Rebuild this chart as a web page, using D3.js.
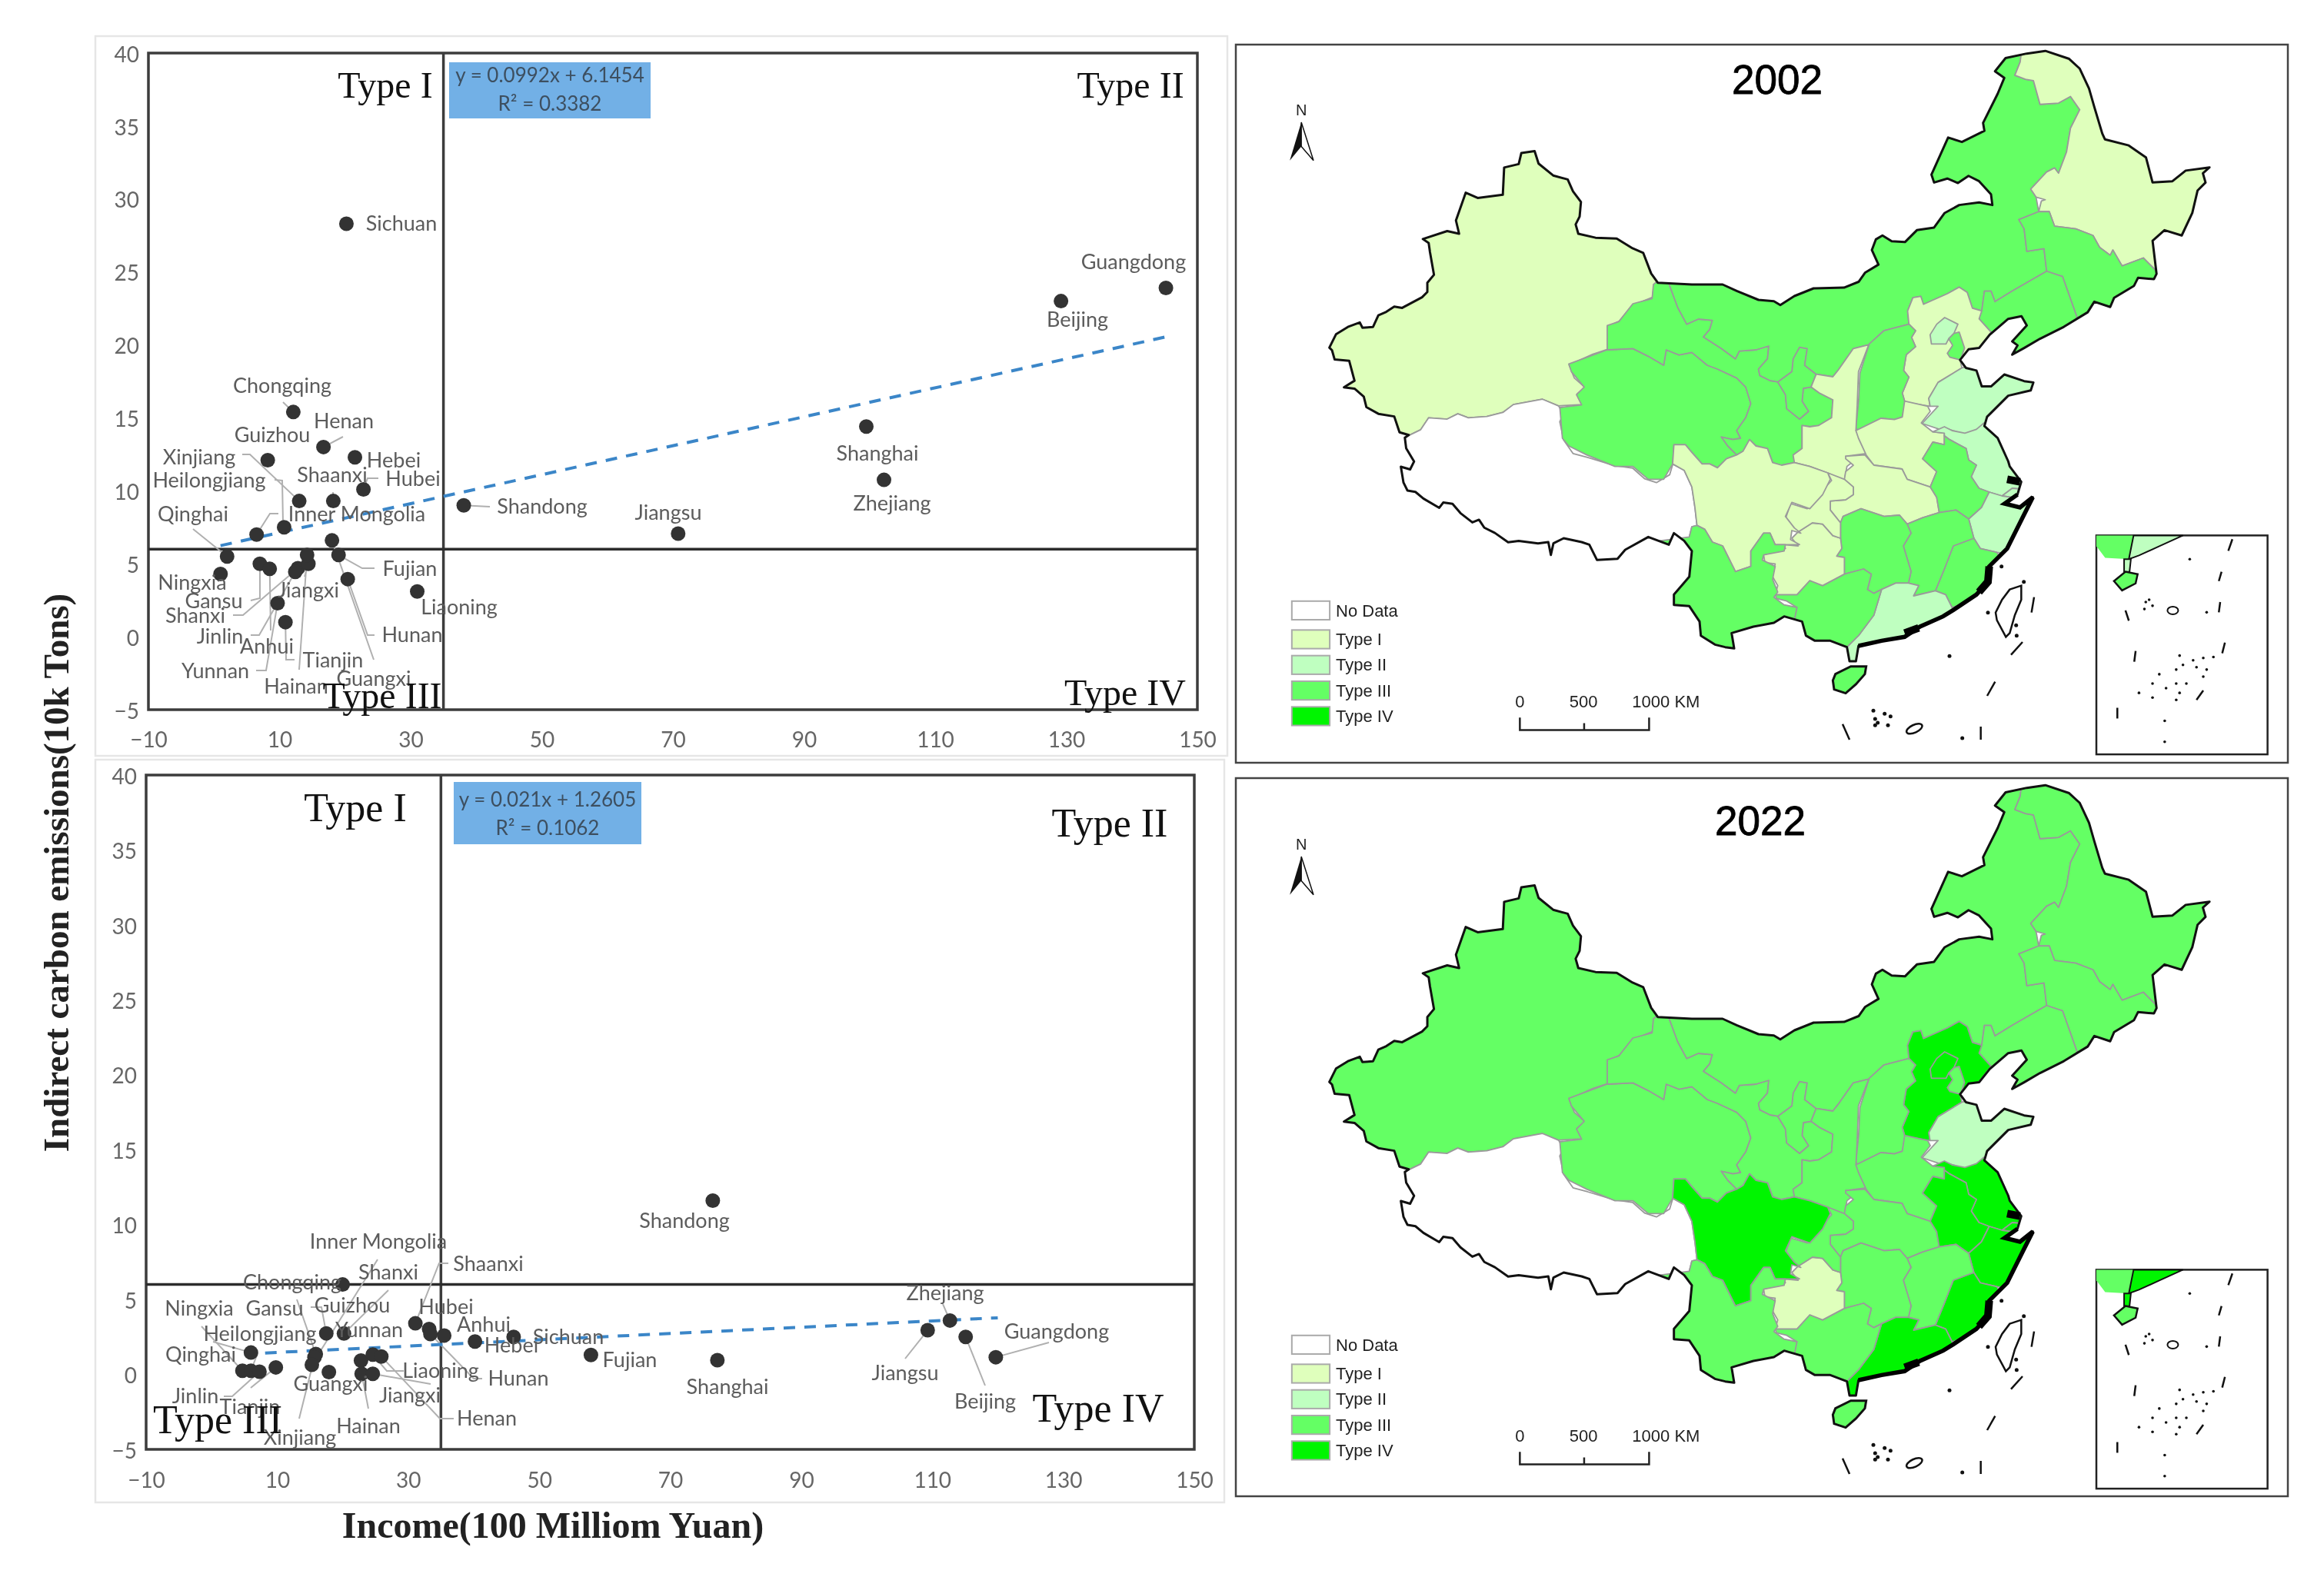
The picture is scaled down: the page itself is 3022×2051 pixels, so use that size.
<!DOCTYPE html>
<html><head><meta charset="utf-8">
<script src="https://cdn.jsdelivr.net/npm/d3@7/dist/d3.min.js"></script>
<style>html,body{margin:0;padding:0;background:#fff}svg{display:block;filter:blur(0.7px)}</style>
</head><body><svg id="c" width="3022" height="2051"></svg>
<script>
// ---------- scatter data ----------
const names2002=["Chongqing","Henan","Guizhou","Hebei","Hubei","Xinjiang","Shaanxi","Heilongjiang","Inner Mongolia","Qinghai","Ningxia","Gansu","Anhui","Shanxi","Jinlin","Jiangxi","Hainan","Fujian","Guangxi","Hunan","Liaoning","Yunnan","Tianjin","Shandong","Sichuan","Beijing","Guangdong","Shanghai","Zhejiang","Jiangsu"];
const income2002=[12.1,16.7,8.2,21.5,22.8,13.0,18.2,10.7,6.5,2.0,1.0,7.0,8.5,12.8,12.4,14.4,14.2,19.0,18.0,20.4,31.0,9.7,10.9,38.1,20.2,129.2,145.2,99.5,102.2,70.8];
const carbon2002=[15.4,13.0,12.1,12.3,10.1,9.3,9.3,7.5,7.0,5.5,4.3,5.0,4.65,4.7,4.45,5.0,5.6,5.6,6.6,3.95,3.1,2.3,1.0,9.0,28.3,23.0,23.9,14.4,10.75,7.07];
const names2022=["Chongqing","Heilongjiang","Ningxia","Qinghai","Jinlin","Tianjin","Gansu","Xinjiang","Inner Mongolia","Guangxi","Guizhou","Shanxi","Shaanxi","Hubei","Hunan","Anhui","Hebei","Sichuan","Fujian","Yunnan","Liaoning","Henan","Hainan","Jiangxi","Shandong","Shanghai","Zhejiang","Jiangsu","Beijing","Guangdong"];
const income2022=[20.0,6.0,4.7,6.0,7.3,9.8,15.9,15.7,15.3,17.9,17.5,20.2,31.1,33.2,33.4,35.5,40.2,46.1,57.9,22.8,24.6,25.9,22.9,24.6,76.5,77.2,112.7,109.3,115.1,119.7];
const carbon2022=[6.0,1.46,0.25,0.25,0.18,0.47,1.36,1.15,0.64,0.16,2.74,2.73,3.41,3.03,2.7,2.6,2.2,2.5,1.3,0.93,1.32,1.2,0.04,0.04,11.6,0.95,3.6,2.95,2.5,1.15];
const xTicks=[-10,10,30,50,70,90,110,130,150];
const yTicks=[-5,0,5,10,15,20,25,30,35,40];
const typeNames=["Type I","Type II","Type III","Type IV"];
const fit2002={a:0.0992,b:6.1454,from:1,to:146,eq:"y = 0.0992x + 6.1454",r2:"R² = 0.3382"};
const fit2022={a:0.021,b:1.2605,from:5,to:120,eq:"y = 0.021x + 1.2605",r2:"R² = 0.1062"};
const splitX=35, splitY=6;

// ---------- label layout (page pixels) ----------
const labelSpots2002={Chongqing:[367,502],Henan:[447,548],Guizhou:[354,566],Xinjiang:[259,595],Hebei:[512,599],Heilongjiang:[272,625],Shaanxi:[432,618],Hubei:[537,623],Qinghai:[251,669],"Inner Mongolia":[464,669],Ningxia:[250,758],Jiangxi:[401,768],Fujian:[533,740],Gansu:[278,782],Shanxi:[254,801],Liaoning:[597,790],Jinlin:[286,828],Hunan:[536,826],Anhui:[347,841],Tianjin:[433,859],Yunnan:[280,873],Hainan:[385,893],Guangxi:[486,883],Shandong:[705,659],Jiangsu:[869,667],Shanghai:[1141,590],Zhejiang:[1160,655],Beijing:[1401,416],Guangdong:[1474,341],Sichuan:[522,291]};
const leaders2002={Chongqing:[[368,523]],Henan:[[446,568]],Xinjiang:[[315,591],[325,591]],Heilongjiang:[[357,624],[367,625],[368,680]],Shaanxi:[[433,640]],Hubei:[[492,622],[478,622]],"Inner Mongolia":[[362,668],[351,668]],Qinghai:[[251,688]],Fujian:[[487,739],[471,739]],Hunan:[[487,826],[478,826]],Guangxi:[[486,858]],Gansu:[[326,781],[338,778],[338,742]],Shanxi:[[303,800],[316,800]],Jinlin:[[326,826],[337,826]],Yunnan:[[333,872],[346,872]],Tianjin:[[383,858],[372,858]],Hainan:[[389,871]],Shandong:[[637,659]],Anhui:[[352,820]],Jiangxi:[[396,750]]};
const labelSpots2022={"Inner Mongolia":[492,1615],Shaanxi:[635,1644],Shanxi:[505,1655],Chongqing:[380,1668],Ningxia:[259,1702],Gansu:[357,1702],Guizhou:[458,1698],Hubei:[580,1700],Anhui:[629,1723],Yunnan:[480,1730],Heilongjiang:[338,1735],Sichuan:[739,1739],Hebei:[665,1750],Qinghai:[261,1762],Fujian:[819,1769],Liaoning:[573,1783],Hunan:[674,1793],Guangxi:[430,1800],Jiangxi:[533,1815],Jinlin:[254,1816],Tianjin:[325,1830],Henan:[633,1845],Hainan:[479,1855],Xinjiang:[390,1870],Shandong:[890,1588],Zhejiang:[1229,1682],Jiangsu:[1177,1786],Beijing:[1281,1823],Guangdong:[1374,1732],Shanghai:[946,1804]};
const leaders2022={"Inner Mongolia":[[491,1638]],Shanxi:[[505,1678]],Shaanxi:[[583,1643],[571,1643]],Ningxia:[[262,1725]],Gansu:[[386,1690]],Guizhou:[[404,1700],[418,1700]],Heilongjiang:[[277,1745]],Qinghai:[[335,1760]],Jinlin:[[291,1816],[302,1816]],Tianjin:[[326,1805]],Xinjiang:[[389,1845]],Henan:[[590,1845],[572,1845]],Hunan:[[627,1793],[616,1793]],Liaoning:[[525,1783],[503,1783]],Jiangxi:[[560,1800]],Hainan:[[479,1832]],Jiangsu:[[1177,1767]],Beijing:[[1281,1802]],Guangdong:[[1364,1746]],Zhejiang:[[1226,1696]]};

// ---------- map geometry: traced in four views of the 2002 map ----------
const view=(x0,y0,k)=>pts=>pts.map(p=>[x0+p[0]*k,y0+p[1]*k]);
const W=view(1720,180,540/1568), NE=view(2360,60,540/1568), S=view(2180,480,1/3), M=view(2000,340,1/3);
const chinaOutline=[
...W([[25,790],[50,740],[95,712],[140,695],[150,715],[190,712],[210,668],[240,655],[270,635],[300,640],[375,600],[395,580],[395,545],[420,515],[405,430],[400,395],[378,380],[470,350],[515,360],[503,310],[540,205],[585,225],[680,213],[685,110],[740,97],[750,55],[800,48],[815,95],[870,140],[925,155],[945,200],[975,240],[970,295],[955,325],[965,360],[1030,375],[1110,378],[1170,415],[1210,432],[1240,510],[1265,545]]),
...M([[600,90],[720,90],[775,115],[860,150],[920,155],[945,170],[1000,135],[1075,105]]),
...NE([[0,915],[110,912],[165,890],[190,855],[240,825],[215,770],[230,730],[255,715],[290,737],[340,740],[385,695],[450,685],[490,630],[545,600],[620,590],[670,600],[665,560],[620,510],[580,490],[540,517],[500,500],[450,515],[440,485],[503,345],[555,362],[640,320],[635,290],[690,180],[715,120],[680,95],[720,45],[800,28],[870,18],[960,48],[1000,85],[1035,160],[1055,230],[1085,330],[1095,352],[1185,375],[1250,420],[1275,515],[1350,510],[1400,470],[1490,458],[1465,480],[1475,515],[1445,545],[1425,630],[1385,715],[1320,695],[1275,735],[1290,860],[1280,880],[1220,875],[1205,905],[1130,950],[1115,985],[1055,965],[1030,1005],[940,1060],[850,1105],[790,1140],[745,1165],[765,1130],[745,1115],[800,1055],[780,1020],[730,1030],[660,1090],[620,1140],[580,1145],[548,1185],[570,1215],[610,1225],[630,1285],[665,1285],[715,1240],[790,1265],[825,1270],[815,1300],[730,1320],[650,1400],[640,1435],[690,1480],[730,1568]]),
...S([[1300,380],[1345,440],[1330,490],[1280,525],[1340,540],[1390,500],[1350,580],[1320,640],[1290,700],[1220,770],[1215,830],[1170,880],[1080,940],[1040,965],[950,1005],[890,1045],[800,1060],[710,1080],[700,1140],[675,1140],[665,1085],[600,1060],[540,1060],[505,1040],[490,985],[420,965],[380,990],[300,1005],[215,1030],[225,1090],[190,1085],[150,1075],[95,1040],[90,985],[50,925]]),
...M([[530,1340],[530,1300],[590,1230],[600,1130],[570,1090],[530,1060],[510,1105],[430,1075],[340,1125],[310,1160],[230,1165],[200,1105],[170,1095],[100,1080],[60,1100],[50,1145],[40,1095],[0,1100]]),
...W([[740,1520],[700,1525],[650,1490],[610,1470],[590,1440],[565,1450],[520,1415],[490,1380],[455,1375],[440,1395],[380,1360],[350,1335],[320,1330],[305,1300],[295,1240],[330,1250],[345,1220],[315,1170],[310,1130],[325,1120],[290,1110],[270,1050],[210,1040],[165,1015],[155,975],[120,945],[80,940],[120,915],[100,840],[45,835],[35,800]])
];
const coastHeavy=S([[1330,490],[1280,525],[1340,540],[1390,500],[1350,580],[1320,640],[1290,700],[1220,770],[1215,830],[1170,880],[1080,940],[1040,965],[950,1005],[890,1045],[800,1060],[710,1080]]);
const coastBlobs=[S([[1290,430],[1340,440]]),S([[1220,770],[1215,830],[1180,870]]),S([[890,1030],[945,1010]])];
const provinceNames=["Xinjiang","Xizang","Qinghai","Gansu","Ningxia","InnerMongolia","Heilongjiang","Jilin","Liaoning","Hebei","Beijing","Tianjin","Shanxi","Shaanxi","Henan","Hubei","Shandong","Jiangsu","Shanghai","Anhui","Zhejiang","Fujian","Jiangxi","Hunan","Guangdong","Guangxi","Guizhou","Chongqing","Sichuan","Yunnan"];
const provinceShapes=[
W([[325,1122],[370,1100],[400,1055],[470,1060],[510,1040],[550,1055],[620,1050],[680,1035],[720,1005],[830,985],[890,1010],[980,1005],[960,965],[990,940],[950,905],[930,855],[1020,815],[1075,797],[1075,710],[1120,690],[1170,630],[1245,600],[1250,560],[1265,545],[1265,0],[0,0],[0,1100]]),
[...W([[325,1122],[370,1100],[400,1055],[470,1060],[510,1040],[550,1055],[620,1050],[680,1035],[720,1005],[830,985],[890,1010],[910,1040],[895,1070],[910,1140],[945,1190],[1000,1205],[1100,1235],[1170,1245],[1215,1285],[1260,1300],[1310,1270],[1322,1230]]),...M([[570,815],[600,880],[612,960],[620,1030],[600,1035],[590,1075],[570,1300],[300,1500],[0,1500]]),...W([[0,1500],[0,1200]])],
M([[120,400],[270,345],[370,340],[430,370],[490,405],[500,345],[550,365],[600,355],[660,405],[700,420],[775,455],[810,490],[830,555],[810,610],[775,660],[790,690],[760,695],[715,685],[740,720],[775,755],[735,770],[700,805],[670,790],[640,790],[600,745],[575,715],[530,715],[525,790],[490,850],[430,850],[370,800],[300,800],[190,755],[120,720],[95,690],[85,570],[170,560],[150,520],[180,490],[130,430]]),
M([[270,345],[270,250],[315,235],[370,165],[445,145],[450,90],[465,78],[510,85],[545,180],[580,245],[625,225],[680,230],[670,265],[645,295],[715,340],[770,380],[785,350],[850,345],[900,330],[895,380],[860,420],[865,445],[905,465],[935,470],[965,520],[970,575],[1020,615],[1055,585],[1030,545],[1035,495],[1065,490],[1100,515],[1150,540],[1145,610],[1095,640],[1060,645],[1030,640],[1030,730],[995,755],[1000,785],[950,795],[915,785],[895,730],[850,720],[825,695],[800,740],[775,755],[740,720],[715,685],[760,695],[790,690],[775,660],[810,610],[830,555],[810,490],[775,455],[700,420],[660,405],[600,355],[550,365],[500,345],[490,405],[430,370],[370,340]]),
M([[935,470],[990,430],[995,380],[1020,335],[1050,340],[1040,405],[1085,440],[1065,490],[1035,495],[1030,545],[1055,585],[1020,615],[970,575],[965,520]]),
[...M([[510,85],[545,180],[580,245],[625,225],[680,230],[670,265],[645,295],[715,340],[770,380],[785,350],[850,345],[900,330],[895,380],[860,420],[865,445],[905,465],[935,470],[990,430],[995,380],[1020,335],[1050,340],[1040,405],[1085,440],[1150,450],[1170,425],[1230,340],[1290,325]]),...NE([[260,1075],[355,1050],[350,1000],[370,950],[400,945],[410,975],[500,935],[545,910],[575,930],[595,990],[630,1000],[640,925],[665,925],[680,965],[745,925],[875,850],[865,765],[800,775],[790,690],[770,655],[845,625],[835,570],[815,540],[875,475],[905,460],[920,480],[950,400],[965,310],[1000,240],[965,190],[920,215],[850,220],[825,130],[795,125],[755,110],[775,60],[780,20],[700,-100],[-800,-100]]),...M([[510,-100]])],
NE([[755,110],[775,60],[780,20],[900,-50],[1200,100],[1600,450],[1400,750],[1285,845],[1240,800],[1160,830],[1125,770],[1115,790],[1075,760],[1050,715],[985,690],[905,680],[885,625],[845,625],[855,585],[870,580],[835,570],[815,540],[875,475],[905,460],[920,480],[950,400],[965,310],[1000,240],[965,190],[920,215],[850,220],[825,130],[795,125]]),
NE([[770,655],[845,625],[885,625],[905,680],[985,690],[1050,715],[1075,760],[1115,790],[1125,770],[1160,830],[1240,800],[1285,845],[1320,900],[1200,1000],[990,1025],[935,870],[875,850],[865,765],[800,775],[790,690]]),
NE([[595,990],[630,1000],[640,925],[665,925],[680,965],[745,925],[875,850],[935,870],[990,1025],[900,1150],[700,1180],[620,1100],[665,1080],[620,1030]]),
NE([[355,1050],[350,1000],[370,950],[400,945],[410,975],[500,935],[545,910],[575,930],[595,990],[630,1000],[620,1030],[665,1080],[610,1150],[580,1145],[548,1185],[555,1215],[465,1270],[430,1330],[435,1360],[340,1345],[330,1310],[355,1250],[335,1225],[345,1165],[380,1135],[365,1100],[380,1075]]),
NE([[435,1090],[460,1050],[490,1025],[540,1050],[525,1085],[505,1105],[495,1125],[440,1125]]),
NE([[505,1105],[525,1085],[545,1080],[565,1140],[550,1185],[510,1175],[500,1160],[520,1130]]),
NE([[205,1125],[260,1075],[355,1050],[380,1075],[365,1100],[380,1135],[345,1165],[335,1225],[355,1250],[330,1310],[340,1345],[330,1400],[300,1410],[250,1405],[160,1450],[155,1440],[165,1340],[170,1235]]),
M([[1085,440],[1150,450],[1170,425],[1230,340],[1290,325],[1250,430],[1245,560],[1240,660],[1280,750],[1200,760],[1230,780],[1205,800],[1195,855],[1130,825],[1060,800],[1000,785],[995,755],[1030,730],[1030,640],[1060,645],[1095,640],[1145,610],[1150,540],[1100,515],[1065,490]]),
S([[700,240],[798,192],[850,197],[881,187],[890,125],[980,145],[990,165],[955,210],[1000,245],[1045,250],[1045,295],[1000,285],[960,350],[1015,400],[990,460],[900,430],[880,390],[770,375],[740,335],[710,270]]),
S([[660,340],[735,335],[770,375],[880,390],[900,430],[990,460],[1015,500],[1025,560],[960,580],[900,605],[870,570],[810,575],[720,545],[650,575],[640,600],[600,550],[600,515],[660,510],[690,490],[690,460],[655,430],[660,400],[690,375],[660,350]]),
[...NE([[555,1215],[640,1200],[760,1240],[870,1260],[830,1330],[730,1320],[650,1400],[640,1435],[620,1460],[560,1465],[485,1440],[480,1450],[405,1425],[465,1360],[435,1360],[430,1330],[465,1270]])],
S([[1000,245],[1045,225],[1075,240],[1125,250],[1170,235],[1200,210],[1380,400],[1360,470],[1310,465],[1270,495],[1220,480],[1180,465],[1150,420],[1170,375],[1140,355],[1130,310],[1065,275],[1045,260],[1045,250]]),
S([[1270,495],[1310,465],[1360,470],[1340,505]]),
S([[1000,285],[1045,295],[1045,260],[1065,275],[1130,310],[1140,355],[1170,375],[1150,420],[1180,465],[1220,480],[1190,540],[1140,585],[1090,550],[1025,560],[1015,500],[990,460],[1015,400],[960,350]]),
S([[1220,480],[1270,495],[1340,505],[1420,510],[1360,640],[1280,720],[1250,715],[1185,700],[1160,660],[1140,585],[1190,540]]),
S([[1250,715],[1185,700],[1160,660],[1080,690],[1045,780],[1010,865],[1050,880],[1075,930],[1320,850]]),
S([[900,605],[960,580],[1025,560],[1090,550],[1140,585],[1160,660],[1080,690],[1045,780],[1010,865],[925,885],[945,845],[905,835],[915,790],[885,690],[915,640]]),
S([[640,600],[650,575],[720,545],[810,575],[870,570],[900,605],[915,640],[885,690],[915,790],[905,835],[855,835],[800,860],[770,875],[745,860],[760,800],[730,780],[655,800],[655,735],[625,730],[645,700],[640,660]]),
S([[800,860],[855,835],[905,835],[945,845],[925,885],[1010,865],[1050,880],[1075,930],[1120,1100],[720,1160],[665,1160],[665,1085],[710,1040],[770,960]]),
S([[385,880],[470,880],[520,825],[570,845],[655,800],[730,780],[760,800],[745,860],[770,875],[800,860],[770,960],[710,1040],[665,1085],[665,1120],[450,1100],[420,960],[470,930],[430,905],[390,895]]),
S([[340,725],[425,700],[420,685],[475,690],[450,660],[475,635],[530,600],[570,605],[610,650],[640,660],[645,700],[625,730],[655,735],[655,800],[570,845],[520,825],[470,880],[385,880],[395,845],[375,810],[385,760],[345,755]]),
S([[590,405],[655,430],[690,460],[690,490],[660,510],[600,515],[600,550],[640,600],[640,660],[610,650],[570,605],[530,600],[475,635],[450,625],[425,585],[445,525],[510,545],[545,500],[605,435]]),
M([[530,715],[575,715],[600,745],[640,790],[670,790],[700,805],[735,770],[775,755],[800,740],[825,695],[850,720],[895,730],[915,785],[950,795],[1000,785],[1060,800],[1130,825],[1140,850],[1110,910],[1060,965],[990,940],[965,995],[1000,1040],[1025,1060],[990,1050],[985,1085],[1020,1105],[965,1105],[925,1105],[905,1060],[880,1060],[830,1130],[830,1190],[770,1210],[720,1110],[680,1095],[650,1045],[620,1030],[612,960],[600,880],[570,815],[525,790]]),
M([[620,1030],[650,1045],[680,1095],[720,1110],[770,1210],[830,1190],[830,1130],[880,1060],[905,1060],[925,1105],[965,1105],[960,1130],[880,1145],[875,1165],[925,1190],[915,1240],[935,1290],[920,1310],[960,1340],[1010,1350],[1000,1400],[950,1550],[400,1550],[400,1100],[590,1075],[600,1035]])
];
const hainanShape=S([[610,1215],[620,1190],[680,1160],[740,1160],[735,1190],[700,1230],[660,1265],[615,1250]]);
const taiwanShape=S([[1300,860],[1345,845],[1345,900],[1320,960],[1300,1030],[1285,1045],[1250,980],[1245,950],[1270,900]]);
const islandDashes=[S([[1395,890],[1385,950]]),S([[1350,1065],[1305,1115]]),S([[1243,1220],[1212,1275]]),S([[648,1385],[675,1446]]),S([[1187,1395],[1187,1446]])];
const islandDots=S([[1065,1120],[1215,950],[768,1333],[812,1345],[835,1355],[775,1365],[785,1380],[775,1390],[825,1390],[1325,1000],[1327,1040],[1115,1440],[1268,770],[1355,830]]);
const insetFrame=[[1257,1067],[1510,1537]];
const insetWest=[[1257,1067],[1312,1067],[1305,1118],[1270,1115],[1257,1090]];
const insetEast=[[1312,1067],[1385,1067],[1350,1090],[1320,1110],[1305,1118]];
const insetLink=[[1298,1118],[1308,1118],[1306,1145],[1298,1145]];
const insetHainan=[[1283,1165],[1300,1145],[1318,1150],[1315,1170],[1295,1185]];
const insetDashes=[[[1458,1075],[1452,1100]],[[1442,1145],[1438,1165]],[[1300,1228],[1305,1250]],[[1440,1210],[1438,1232]],[[1315,1315],[1313,1338]],[[1447,1297],[1443,1320]],[[1415,1400],[1405,1420]],[[1288,1437],[1288,1460]]];
const insetDots=[[1395,1118],[1330,1210],[1340,1218],[1328,1225],[1335,1205],[1420,1232],[1380,1325],[1400,1335],[1415,1330],[1430,1328],[1385,1345],[1405,1350],[1420,1355],[1375,1355],[1350,1365],[1375,1385],[1390,1385],[1415,1370],[1340,1385],[1320,1405],[1340,1415],[1360,1395],[1380,1405],[1375,1420],[1358,1465],[1358,1510]];
// colours per province: index into typeNames, -1 = no data
const classes2002=[0,-1,2,2,2,2,0,2,2,0,1,2,2,0,0,0,1,1,1,2,1,2,2,2,1,2,0,0,0,2];
const classes2022=[2,-1,2,2,2,2,2,2,2,3,3,2,2,2,2,2,1,3,3,3,3,3,2,2,3,2,0,2,3,2];
const typeColors=["#dfffbc","#bfffc0","#64ff64","#00f500"];
const legendRows=["No Data",...typeNames];

// ---------- drawing ----------
const svg=d3.select("#c");
const fontChart="Lato, 'Open Sans', sans-serif", fontSerif="'Liberation Serif', serif", fontMap="'Liberation Sans', sans-serif";
svg.append("rect").attr("width",3022).attr("height",2051).attr("fill","#fff");

function drawScatter(o){
  const g=svg.append("g");
  g.append("rect").attr("x",o.panel[0]).attr("y",o.panel[1]).attr("width",o.panel[2]).attr("height",o.panel[3]).attr("fill","#fff").attr("stroke","#e6e6e6").attr("stroke-width",2.5);
  const x=d3.scaleLinear().domain([-10,150]).range([o.box[0],o.box[2]]);
  const y=d3.scaleLinear().domain([-5,40]).range([o.box[3],o.box[1]]);
  const ax=g.append("g").attr("transform",`translate(0,${o.box[3]})`).call(d3.axisBottom(x).tickValues(xTicks).tickSize(0).tickPadding(o.padX).tickFormat(d=>d<0?"−"+(-d):d));
  const ay=g.append("g").attr("transform",`translate(${o.box[0]},0)`).call(d3.axisLeft(y).tickValues(yTicks).tickSize(0).tickPadding(o.padY).tickFormat(d=>d<0?"−"+(-d):d));
  [ax,ay].forEach(a=>{a.select(".domain").remove();a.selectAll("text").attr("font-family",fontChart).attr("font-size",28).attr("fill","#666")});
  ay.selectAll("text").attr("dy","0.4em");
  g.append("rect").attr("x",o.box[0]).attr("y",o.box[1]).attr("width",o.box[2]-o.box[0]).attr("height",o.box[3]-o.box[1]).attr("fill","none").attr("stroke","#3c3c3c").attr("stroke-width",3.5);
  g.append("line").attr("x1",x(splitX)).attr("x2",x(splitX)).attr("y1",o.box[1]).attr("y2",o.box[3]).attr("stroke","#3c3c3c").attr("stroke-width",3.5);
  g.append("line").attr("x1",o.box[0]).attr("x2",o.box[2]).attr("y1",y(splitY)).attr("y2",y(splitY)).attr("stroke","#2c2c2c").attr("stroke-width",3.5);
  const line=d3.line();
  o.names.forEach((n,i)=>{
    const l=o.leaders[n]; if(!l) return;
    g.append("path").attr("d",line([...l,[x(o.xs[i]),y(o.ys[i])]])).attr("fill","none").attr("stroke","#b0b0b0").attr("stroke-width",2);
  });
  g.append("line").attr("x1",x(o.fit.from)).attr("y1",y(o.fit.a*o.fit.from+o.fit.b)).attr("x2",x(o.fit.to)).attr("y2",y(o.fit.a*o.fit.to+o.fit.b)).attr("stroke","#3b86c8").attr("stroke-width",4).attr("stroke-dasharray","15 12");
  g.selectAll("circle.p").data(o.names).join("circle").attr("class","p").attr("cx",(d,i)=>x(o.xs[i])).attr("cy",(d,i)=>y(o.ys[i])).attr("r",9.5).attr("fill","#333");
  g.selectAll("text.l").data(o.names).join("text").attr("class","l").attr("x",d=>o.spots[d][0]).attr("y",d=>o.spots[d][1]).attr("dy","0.35em").attr("text-anchor","middle").attr("font-family",fontChart).attr("font-size",27).attr("fill","#5c5c5c").text(d=>d);
  g.append("rect").attr("x",o.eqBox[0]).attr("y",o.eqBox[1]).attr("width",o.eqBox[2]).attr("height",o.eqBox[3]).attr("fill","#72b0e6");
  [o.fit.eq,o.fit.r2].forEach((t,i)=>g.append("text").attr("x",o.eqBox[0]+o.eqBox[2]/2).attr("y",o.eqLines[i]).attr("dy","0.35em").attr("text-anchor","middle").attr("font-family",fontChart).attr("font-size",26).attr("fill","#3d4f60").text(t));
  typeNames.forEach((t,i)=>g.append("text").attr("x",o.typePos[i][0]).attr("y",o.typePos[i][1]).attr("dy","0.35em").attr("text-anchor","middle").attr("font-family",fontSerif).attr("font-size",o.typeSize).attr("fill","#111").text(t));
}
drawScatter({panel:[124,47,1472,936],box:[193,69,1557,923],padX:29,padY:12,names:names2002,xs:income2002,ys:carbon2002,fit:fit2002,spots:labelSpots2002,leaders:leaders2002,eqBox:[584,81,262,73],eqLines:[98,135],typePos:[[501,110],[1470,110],[497,904],[1463,900]],typeSize:48});
drawScatter({panel:[124,988,1468,966],box:[190,1008,1553,1885],padX:30,padY:12,names:names2022,xs:income2022,ys:carbon2022,fit:fit2022,spots:labelSpots2022,leaders:leaders2022,eqBox:[590,1017,244,81],eqLines:[1040,1077],typePos:[[462,1050],[1443,1070],[283,1846],[1428,1831]],typeSize:52});
svg.append("text").attr("transform","translate(73,1135) rotate(-90)").attr("dy","0.35em").attr("text-anchor","middle").attr("font-family",fontSerif).attr("font-weight","bold").attr("font-size",47).attr("fill","#222").text("Indirect carbon emissions(10k Tons)");
svg.append("text").attr("x",719).attr("y",1983).attr("dy","0.35em").attr("text-anchor","middle").attr("font-family",fontSerif).attr("font-weight","bold").attr("font-size",48).attr("fill","#222").text("Income(100 Milliom Yuan)");

let clipId=0;
function drawMap(o){
  const g=svg.append("g");
  g.append("rect").attr("x",1607).attr("y",o.frameY).attr("width",1368).attr("height",o.frameH).attr("fill","#fff").attr("stroke","#444").attr("stroke-width",2.5);
  const mx=d3.scaleLinear().domain([0,1540]).range([1620,2975]);
  const my=d3.scaleLinear().domain([0,1555]).range([50+o.dy,992+o.dy]);
  const px=d3.scaleLinear().domain([0,3022]).range([0,3022]);
  const py=d3.scaleLinear().domain([0,2051]).range([o.dy,2051+o.dy]);
  const line=d3.line().x(d=>mx(d[0])).y(d=>my(d[1]));
  const poly=d3.line().x(d=>mx(d[0])).y(d=>my(d[1])).curve(d3.curveLinearClosed);
  const pageLine=d3.line().x(d=>px(d[0])).y(d=>py(d[1]));
  const pagePoly=d3.line().x(d=>px(d[0])).y(d=>py(d[1])).curve(d3.curveLinearClosed);
  const color=c=>c<0?"#fff":typeColors[c];
  const id="clip"+(clipId++);
  g.append("clipPath").attr("id",id).append("path").attr("d",pagePoly(chinaOutline));
  const pg=g.append("g").attr("clip-path",`url(#${id})`);
  pg.selectAll("path").data(provinceNames).join("path").attr("d",(d,i)=>pagePoly(provinceShapes[i])).attr("fill",(d,i)=>color(o.classes[i])).attr("stroke","#9a9a9a").attr("stroke-width",1.8).attr("stroke-linejoin","round");
  g.append("path").attr("d",pagePoly(chinaOutline)).attr("fill","none").attr("stroke","#111").attr("stroke-width",3).attr("stroke-linejoin","round");
  g.append("path").attr("d",pageLine(coastHeavy)).attr("fill","none").attr("stroke","#000").attr("stroke-width",5.5);
  g.selectAll("path.blob").data(coastBlobs).join("path").attr("class","blob").attr("d",pageLine).attr("fill","none").attr("stroke","#000").attr("stroke-width",10);
  g.append("path").attr("d",pagePoly(hainanShape)).attr("fill",color(2)).attr("stroke","#111").attr("stroke-width",3);
  g.append("path").attr("d",pagePoly(taiwanShape)).attr("fill","#fff").attr("stroke","#111").attr("stroke-width",2.5);
  g.selectAll("path.dash").data(islandDashes).join("path").attr("class","dash").attr("d",pageLine).attr("stroke","#111").attr("stroke-width",2.5);
  g.selectAll("circle.dot").data(islandDots).join("circle").attr("class","dot").attr("cx",d=>px(d[0])).attr("cy",d=>py(d[1])).attr("r",2.5).attr("fill","#111");
  g.append("ellipse").attr("cx",mx(988)).attr("cy",my(1482)).attr("rx",11).attr("ry",5).attr("fill","#fff").attr("stroke","#111").attr("stroke-width",2.5).attr("transform",`rotate(-25 ${mx(988)} ${my(1482)})`);
  // inset
  g.append("rect").attr("x",mx(insetFrame[0][0])).attr("y",my(insetFrame[0][1])).attr("width",mx(insetFrame[1][0])-mx(insetFrame[0][0])).attr("height",my(insetFrame[1][1])-my(insetFrame[0][1])).attr("fill","#fff").attr("stroke","#222").attr("stroke-width",2.5);
  g.append("path").attr("d",poly(insetWest)).attr("fill",color(2));
  g.append("path").attr("d",poly(insetEast)).attr("fill",color(o.insetClass)).attr("stroke","#111").attr("stroke-width",2);
  g.append("path").attr("d",poly(insetLink)).attr("fill",color(o.insetClass)).attr("stroke","#111").attr("stroke-width",2);
  g.append("path").attr("d",poly(insetHainan)).attr("fill",color(2)).attr("stroke","#111").attr("stroke-width",2.5);
  g.selectAll("path.idash").data(insetDashes).join("path").attr("class","idash").attr("d",d=>line(d)).attr("stroke","#111").attr("stroke-width",2.5);
  g.selectAll("circle.idot").data(insetDots).join("circle").attr("class","idot").attr("cx",d=>mx(d[0])).attr("cy",d=>my(d[1])).attr("r",1.8).attr("fill","#111");
  g.append("ellipse").attr("cx",mx(1370)).attr("cy",my(1228)).attr("rx",7).attr("ry",5).attr("fill","#fff").attr("stroke","#111").attr("stroke-width",2);
  // title
  g.append("text").attr("x",o.title[0]).attr("y",o.title[1]).attr("dy","0.35em").attr("text-anchor","middle").attr("font-family",fontMap).attr("font-size",53).attr("fill","#000").attr("stroke","#000").attr("stroke-width",0.8).text(o.year);
  // north arrow
  g.append("text").attr("x",mx(82)).attr("y",my(o.n)).attr("dy","0.35em").attr("text-anchor","middle").attr("font-family",fontMap).attr("font-size",20).attr("fill","#222").text("N");
  g.append("path").attr("d",poly([[82,180],[65,262],[82,232]])).attr("fill","#111");
  g.append("path").attr("d",poly([[82,180],[100,262],[82,232]])).attr("fill","#fff").attr("stroke","#111").attr("stroke-width",1.5);
  // legend
  const rows=[1228,1290,1345,1400,1455];
  legendRows.forEach((t,i)=>{
    g.append("rect").attr("x",mx(68)).attr("y",my(rows[i]-20)).attr("width",mx(124)-mx(68)).attr("height",my(rows[i]+20)-my(rows[i]-20)).attr("fill",i==0?"#fff":typeColors[i-1]).attr("stroke","#aaa").attr("stroke-width",2);
    g.append("text").attr("x",mx(133)).attr("y",my(rows[i])).attr("dy","0.35em").attr("font-family",fontMap).attr("font-size",22).attr("fill","#222").text(t);
  });
  // scale bar
  g.append("path").attr("d",line([[405,1458],[405,1485],[596,1485],[596,1458]])).attr("fill","none").attr("stroke","#222").attr("stroke-width",2.5);
  g.append("path").attr("d",line([[500,1470],[500,1485]])).attr("stroke","#222").attr("stroke-width",2.5);
  [["0",405],["500",499],["1000 KM",621]].forEach(s=>g.append("text").attr("x",mx(s[1])).attr("y",my(1423)).attr("dy","0.35em").attr("text-anchor","middle").attr("font-family",fontMap).attr("font-size",22).attr("fill","#222").text(s[0]));
}
drawMap({year:"2002",dy:0,frameY:58,frameH:934,classes:classes2002,insetClass:1,title:[2311,103],n:153});
drawMap({year:"2022",dy:955,frameY:1012,frameH:934,classes:classes2022,insetClass:3,title:[2289,1067],n:153});
</script></body></html>
